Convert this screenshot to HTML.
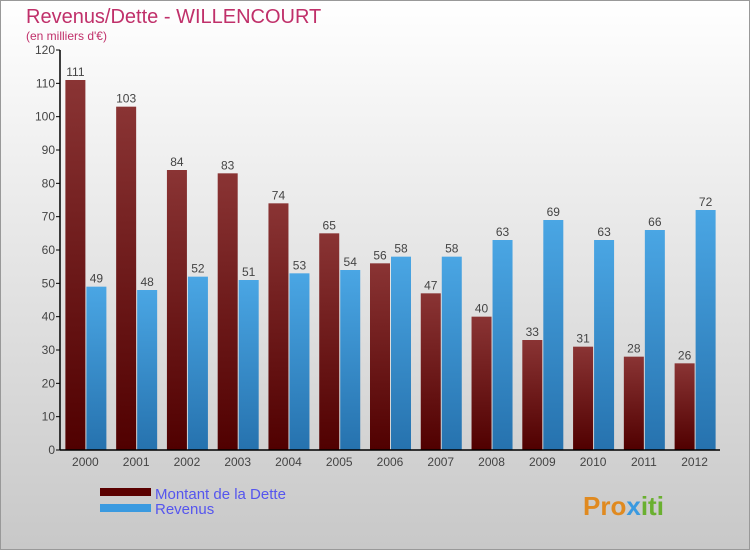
<!DOCTYPE html>
<html><head><meta charset="utf-8"><style>
body{margin:0;width:750px;height:550px;overflow:hidden;font-family:"Liberation Sans",sans-serif}
svg{display:block}
</style></head><body>
<svg width="750" height="550" xmlns="http://www.w3.org/2000/svg">
<defs>
<linearGradient id="bg" x1="0" y1="0" x2="0" y2="1"><stop offset="0" stop-color="#ffffff"/><stop offset="1" stop-color="#c8c8c8"/></linearGradient>
<linearGradient id="gd" x1="0" y1="0" x2="0" y2="1"><stop offset="0" stop-color="#8a3434"/><stop offset="1" stop-color="#500000"/></linearGradient>
<linearGradient id="gr" x1="0" y1="0" x2="0" y2="1"><stop offset="0" stop-color="#4aa6e4"/><stop offset="1" stop-color="#2672ae"/></linearGradient>
</defs>
<rect x="0.5" y="0.5" width="749" height="549" fill="url(#bg)" stroke="#999"/>
<text x="26" y="23" font-size="20" fill="#c0306a">Revenus/Dette - WILLENCOURT</text>
<text x="26" y="40" font-size="12" fill="#c0306a">(en milliers d'€)</text>
<g id="plot"></g>
<g>
<rect x="100" y="488" width="51" height="8" fill="#5a0000"/>
<text x="155" y="499" font-size="15" fill="#5555ee">Montant de la Dette</text>
<rect x="100" y="504" width="51" height="8" fill="#3a9ae0"/>
<text x="155" y="514" font-size="15" fill="#5555ee">Revenus</text>
</g>
<text x="583" y="515" font-size="26" font-weight="bold" fill="#e08a20">Pro<tspan fill="#3a9ae0">x</tspan><tspan fill="#6ab030">iti</tspan></text>
</svg>
<script>
const years=["2000","2001","2002","2003","2004","2005","2006","2007","2008","2009","2010","2011","2012"];
const dette=[111,103,84,83,74,65,56,47,40,33,31,28,26];
const revenus=[49,48,52,51,53,54,58,58,63,69,63,66,72];
const yTicks=[0,10,20,30,40,50,60,70,80,90,100,110,120];
const NS="http://www.w3.org/2000/svg";
const g=document.getElementById('plot');
const x0=60,x1=720,y0=450,y1=50,yMax=120;
const bw=(x1-x0)/years.length;
const Y=v=>y0-(v/yMax)*(y0-y1);
function mk(t,a){const e=document.createElementNS(NS,t);for(const k in a)e.setAttribute(k,a[k]);g.appendChild(e);return e;}
yTicks.forEach(v=>{
 const l=mk('line',{x1:x0-4,x2:x0,y1:Y(v),y2:Y(v),stroke:'#000'});
 
 
 const t=mk('text',{x:x0-5,y:Y(v)+4,'font-size':12,'text-anchor':'end',fill:'#444'});
 t.textContent=v;
 
 
});
years.forEach((yr,i)=>{
 const c=x0+bw*(i+0.5);
 const d=mk('rect',{x:c-20,y:Y(dette[i]),width:20,height:y0-Y(dette[i]),fill:'url(#gd)'});
 
 
 const r=mk('rect',{x:c+1,y:Y(revenus[i]),width:20,height:y0-Y(revenus[i]),fill:'url(#gr)'});
 
 
 const dl=mk('text',{x:c-10,y:Y(dette[i])-4,'font-size':12,'text-anchor':'middle',fill:'#444'});
 dl.textContent=dette[i];
 
 
 const rl=mk('text',{x:c+11,y:Y(revenus[i])-4,'font-size':12,'text-anchor':'middle',fill:'#444'});
 rl.textContent=revenus[i];
 
 
 const xl=mk('text',{x:c,y:466,'font-size':12,'text-anchor':'middle',fill:'#444'});
 xl.textContent=yr;
 
 
});
const ax=mk('line',{x1:x0,x2:x0,y1:y1,y2:y0,stroke:'#000','stroke-width':1.5});


const bx=mk('line',{x1:x0,x2:x1,y1:y0,y2:y0,stroke:'#000','stroke-width':1.5});


</script>
</body></html>
